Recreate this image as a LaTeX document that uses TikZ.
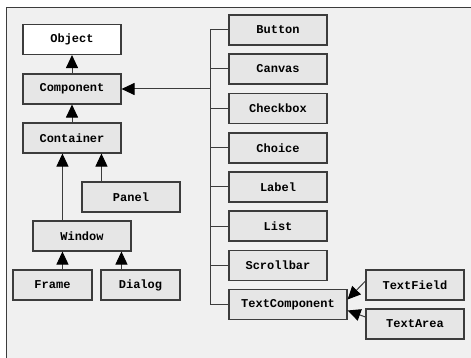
\documentclass[tikz,border=0pt]{standalone}
\usepackage{fontspec}
\newfontfamily\cour{Liberation Mono}
\usetikzlibrary{arrows.meta,calc}
\definecolor{bgc}{HTML}{F0F0F0}
\definecolor{boxc}{HTML}{E6E6E6}
\definecolor{linec}{HTML}{3C3C3C}
\begin{document}
\begin{tikzpicture}[x=1pt,y=-1pt,
  cls/.style={draw=linec, line width=1.1pt, fill=boxc, minimum height=30pt, minimum width=98pt, inner sep=0pt, font=\cour\bfseries\fontsize{12}{13}\selectfont},
  conn/.style={draw=linec, line width=1pt},
  arr/.style={conn, -{Triangle[length=13pt,width=12pt,color=black]}}]
\useasboundingbox (0,0) rectangle (471,358);
\clip (0,0) rectangle (471,358);
\fill[white] (0,0) rectangle (471,358);
\draw[draw=linec, line width=1pt, fill=bgc] (6,8) rectangle (490,380);
% left hierarchy
\node[cls, fill=white] (obj) at (72,39.5) {Object};
\node[cls] (comp) at (72,89) {Component};
\node[cls] (cont) at (72,138) {Container};
\node[cls] (panel) at (131,197) {Panel};
\node[cls] (win) at (82,236) {Window};
\node[cls, minimum width=79pt] (frame) at (52.5,285) {Frame};
\node[cls, minimum width=79pt] (dialog) at (140.5,285) {Dialog};
\draw[arr] (comp.north) -- (obj.south);
\draw[arr] (cont.north) -- (comp.south);
\draw[arr] ([xshift=30pt]win.north west) -- ([xshift=30pt]win.north west |- cont.south);
\draw[arr] ([xshift=20pt]panel.north west) -- ([xshift=20pt]panel.north west |- cont.south);
\draw[arr] ([xshift=50pt]frame.north west) -- ([xshift=50pt]frame.north west |- win.south);
\draw[arr] ([xshift=21pt]dialog.north west) -- ([xshift=21pt]dialog.north west |- win.south);
% right column
\node[cls] (button) at (278,30) {Button};
\node[cls] (canvas) at (278,69) {Canvas};
\node[cls] (checkbox) at (278,108.5) {Checkbox};
\node[cls] (choice) at (278,148) {Choice};
\node[cls] (label) at (278,187) {Label};
\node[cls] (list) at (278,226) {List};
\node[cls] (scroll) at (278,265.5) {Scrollbar};
\node[cls, minimum width=118pt] (tc) at (288,304.5) {TextComponent};
\node[cls] (tf) at (415,285) {TextField};
\node[cls] (ta) at (415,324) {TextArea};
\coordinate (bus) at (210,30);
\draw[conn] (bus |- button.west) -- (bus |- tc.west);
\foreach \n in {button,canvas,checkbox,choice,label,list,scroll,tc}
  \draw[conn] (bus |- \n.west) -- (\n.west);
\draw[arr] (bus |- comp.east) -- (comp.east);
\draw[arr] ([yshift=4pt]tf.west) -- ([yshift=5pt]tc.east);
\draw[arr] ([yshift=7pt]ta.west) -- ([yshift=-6pt]tc.east);
\end{tikzpicture}
\end{document}
